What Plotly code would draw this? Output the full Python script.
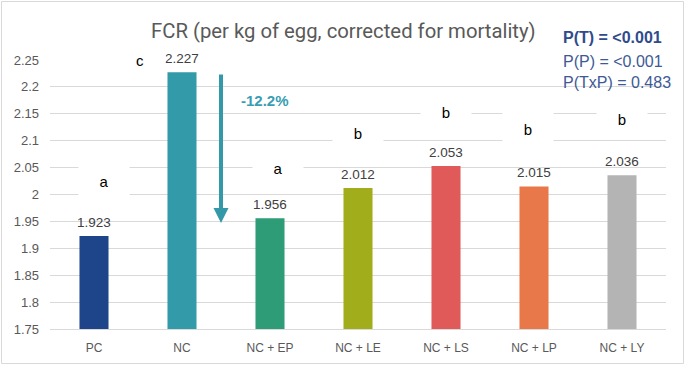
import plotly.graph_objects as go

categories = ["PC", "NC", "NC + EP", "NC + LE", "NC + LS", "NC + LP", "NC + LY"]
fcr_values = [1.923, 2.227, 1.956, 2.012, 2.053, 2.015, 2.036]
value_labels = ["1.923", "2.227", "1.956", "2.012", "2.053", "2.015", "2.036"]
bar_colors = ["#1E4489", "#339AAA", "#2E9C77", "#A2AD1C", "#E05A5A", "#E8774A", "#B4B4B4"]
sig_letters = ["a", "c", "a", "b", "b", "b", "b"]
y_tick_vals = [1.75, 1.8, 1.85, 1.9, 1.95, 2.0, 2.05, 2.1, 2.15, 2.2, 2.25]
y_tick_text = ["1.75", "1.8", "1.85", "1.9", "1.95", "2", "2.05", "2.1", "2.15", "2.2", "2.25"]
title_text = "FCR (per kg of egg, corrected for mortality)"
p_lines = ["P(T) = <0.001", "P(P) = <0.001", "P(TxP) = 0.483"]
change_text = "-12.2%"

W, H = 685, 366
ML, MR, MT, MB = 50, 19, 60, 37
FONT = "Liberation Sans, Arial, sans-serif"
TFONT = "Roboto, Liberation Sans, sans-serif"

fig = go.Figure()
fig.add_trace(go.Bar(
    x=categories, y=fcr_values,
    marker=dict(color=bar_colors, line=dict(width=0)),
    hoverinfo="skip",
))

annotations = []
# value labels above bars
for cat, val, lab in zip(categories, fcr_values, value_labels):
    annotations.append(dict(
        x=cat, y=val, xref="x", yref="y", text=lab, showarrow=False,
        yanchor="bottom", yshift=4,
        font=dict(family=FONT, size=13.5, color="#404040"),
    ))

# letter placement (position style, not data)
letter_pos = [
    # (xshift, y, height)
    (10, 2.025, 40),
    (-42, 2.25, 30),
    (8, 2.05, 30),
    (0, 2.114, 30),
    (0, 2.153, 30),
    (-6, 2.122, 38),
    (0, 2.140, 30),
]
for cat, letter, (xs, yv, h) in zip(categories, sig_letters, letter_pos):
    annotations.append(dict(
        x=cat, y=yv, xref="x", yref="y", text=letter, showarrow=False,
        xshift=xs, width=50, height=h, bgcolor="white", borderpad=0,
        font=dict(family=FONT, size=15, color="#000000"),
    ))

# arrow NC -> NC+EP
annotations.append(dict(
    x="NC", y=1.947, xref="x", yref="y", xshift=39,
    ax=0, ay=-150, axref="pixel", ayref="pixel",
    showarrow=True, arrowhead=2, arrowsize=0.75, arrowwidth=4,
    arrowcolor="#3399A8", text="", standoff=0,
))
annotations.append(dict(
    x="NC", y=2.174, xref="x", yref="y", xshift=83, showarrow=False,
    text="<b>%s</b>" % change_text,
    font=dict(family=FONT, size=15, color="#3A9DB3"),
))

pw, ph = W - ML - MR, H - MT - MB

# title
annotations.append(dict(
    x=(343 - ML) / pw, y=1 + (MT - 31) / ph,
    xref="paper", yref="paper", xanchor="center", yanchor="middle",
    showarrow=False, text=title_text,
    font=dict(family=TFONT, size=20.3, color="#595959"),
))

# p-values
p_y = [37, 61, 83]
for i, (txt, py) in enumerate(zip(p_lines, p_y)):
    annotations.append(dict(
        x=(561 - ML) / pw, y=1 + (MT - py) / ph,
        xref="paper", yref="paper", xanchor="left", yanchor="middle",
        showarrow=False,
        text=("<b>%s</b>" % txt) if i == 0 else txt,
        font=dict(family=FONT, size=16, color="#2F4B8C" if i == 0 else "#3D5A96"),
    ))

shapes = [dict(
    type="rect", xref="paper", yref="paper",
    x0=(1.5 - ML) / pw, x1=(683.5 - ML) / pw,
    y0=1 + (MT - 1.5) / ph, y1=1 + (MT - 363.5) / ph,
    line=dict(color="#D9D9D9", width=1), fillcolor="rgba(0,0,0,0)", layer="below",
)]

fig.update_layout(
    width=W, height=H, margin=dict(l=ML, r=MR, t=MT, b=MB),
    paper_bgcolor="white", plot_bgcolor="white",
    bargap=0.67, showlegend=False,
    annotations=annotations, shapes=shapes,
    font=dict(family=FONT, color="#595959"),
)
fig.update_xaxes(
    showgrid=False, showline=True, linecolor="#D9D9D9", linewidth=1,
    ticks="", tickfont=dict(family=FONT, size=12, color="#595959"),
    ticklabelstandoff=8,
)
fig.update_yaxes(
    range=[1.75, 2.25], tickvals=y_tick_vals, ticktext=y_tick_text,
    showgrid=True, gridcolor="#D9D9D9", gridwidth=1, zeroline=False,
    showline=False, ticks="", tickfont=dict(family=FONT, size=13, color="#595959"),
    ticklabelstandoff=10,
)

fig.write_html(
    "out.html",
    config={"displayModeBar": False},
    post_script="document.body.style.margin='0';document.body.style.overflow='hidden';",
)
